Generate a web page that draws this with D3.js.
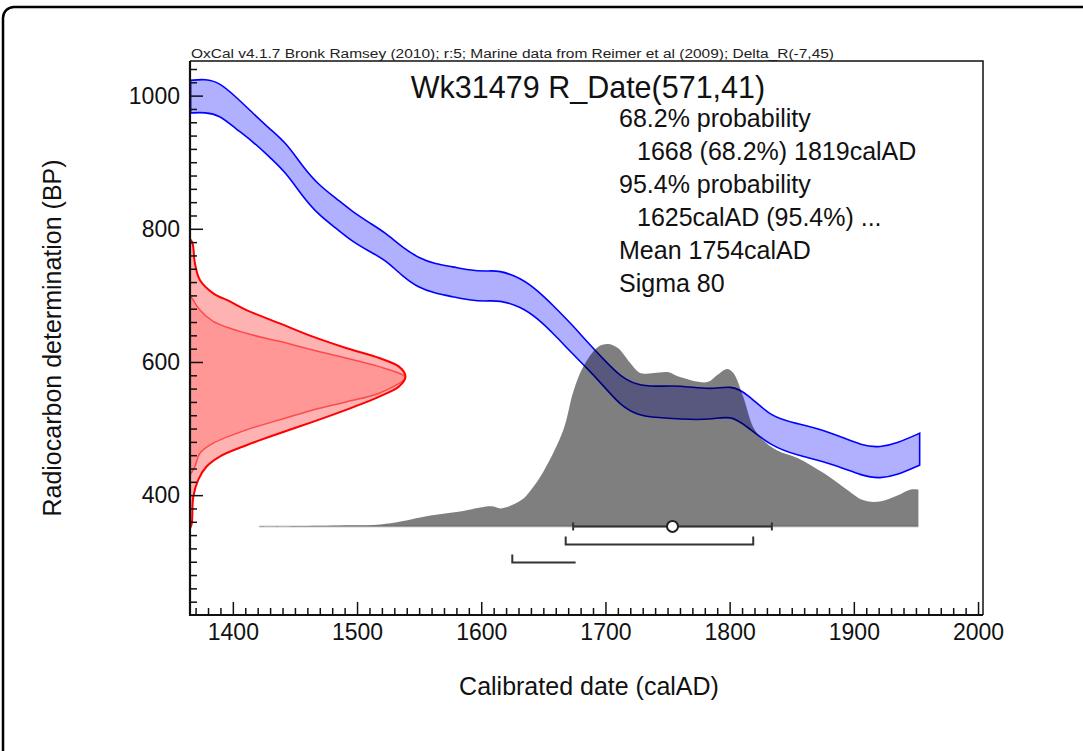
<!DOCTYPE html>
<html>
<head>
<meta charset="utf-8">
<script src="https://cdn.jsdelivr.net/npm/d3@7/dist/d3.min.js"></script>
<style>
  html, body { margin: 0; padding: 0; background: #fff; }
  svg { display: block; font-family: "Liberation Sans", Arial, Helvetica, sans-serif; }
</style>
</head>
<body>
<svg id="chart" width="1083" height="751"></svg>
<script>
// ---------- data ----------
const headerText = "OxCal v4.1.7 Bronk Ramsey (2010); r:5; Marine data from Reimer et al (2009); Delta_R(-7,45)";
const titleText = "Wk31479 R_Date(571,41)";
const infoLines = [
  {text: "68.2% probability", indent: false},
  {text: "1668 (68.2%) 1819calAD", indent: true},
  {text: "95.4% probability", indent: false},
  {text: "1625calAD (95.4%) ...", indent: true},
  {text: "Mean 1754calAD", indent: false},
  {text: "Sigma 80", indent: false}
];
const xLabel = "Calibrated date (calAD)";
const yLabel = "Radiocarbon determination (BP)";

const xMajorTicks = [1400, 1500, 1600, 1700, 1800, 1900, 2000];
const yMajorTicks = [400, 600, 800, 1000];

// calibration curve band (calAD, BP upper / lower)
const calYears = [1366,1378,1389,1402,1416,1429,1443,1456,1469,1483,1496,1510,1523,1537,1550,1563,1577,1590,1604,1614,1632,1645,1659,1672,1685,1699,1712,1726,1739,1760,1785,1801,1814,1834,1854,1881,1908,1921,1935,1953];
const calUpper = [1023,1025,1020,999,974,951,929,894,866,846,826,809,794,771,756,747,743,738,736,738,726,708,683,658,631,603,578,565,563,565,558,565,553,516,508,495,473,472,478,493];
const calLower = [974,975,971,951,931,909,884,849,821,801,781,766,753,728,711,703,698,693,691,693,683,666,641,615,591,563,535,520,517,514,513,520,503,473,460,448,428,425,430,445];

// calibrated probability distribution (relative)
const probYears = [1421,1455,1495,1519,1535,1559,1583,1608,1616,1632,1640,1650,1666,1674,1682,1694,1702,1710,1720,1728,1739,1750,1760,1782,1790,1798,1803,1811,1819,1827,1838,1855,1876,1892,1908,1921,1935,1946,1952];
const probValues = [0,0.002,0.006,0.011,0.027,0.060,0.082,0.110,0.099,0.143,0.200,0.300,0.527,0.736,0.874,0.984,1.0,0.978,0.896,0.841,0.841,0.846,0.819,0.791,0.830,0.863,0.841,0.709,0.544,0.473,0.418,0.374,0.291,0.214,0.143,0.137,0.170,0.203,0.203];

// radiocarbon date distributions on the BP axis (relative density)
const outerBP = [785,778,748,723,703,691,678,658,638,621,606,593,578,563,548,528,510,493,475,458,443,423,397,357,350];
const outerDensity = [0,0.012,0.023,0.046,0.108,0.185,0.262,0.416,0.570,0.724,0.878,0.970,1.0,0.970,0.878,0.724,0.570,0.416,0.262,0.138,0.077,0.038,0.015,0.008,0];
const innerBP = [700,693,678,661,643,631,618,606,593,581,576,553,540,528,513,498,478,463,443,430];
const innerDensity = [0,0.015,0.046,0.108,0.262,0.416,0.570,0.724,0.878,0.985,1.0,0.878,0.724,0.570,0.416,0.262,0.108,0.046,0.023,0];

// summary ranges
const meanYear = 1754;
const sigmaYears = 80;
const range68 = [1668, 1819];
const range95 = [1625, 1676];

// ---------- layout ----------
const svg = d3.select("#chart");
const L = 190, R = 983, T = 61, B = 615;

const x = d3.scaleLinear().domain([1365.5, 2004]).range([L, R]);
const y = d3.scaleLinear().domain([220, 1052]).range([B, T]);
const distBaseBP = 353;       // baseline of calibrated distribution
const prob = d3.scaleLinear().domain([0, 1]).range([y(distBaseBP), y(627)]);
const dens = d3.scaleLinear().domain([0, 1]).range([L, x(1539)]);
const rowY = d3.scaleLinear().domain([0, 2]).range([y(distBaseBP), y(distBaseBP - 54)]);

// outer rounded frame
svg.append("rect")
  .attr("x", 3).attr("y", 7).attr("width", 1200).attr("height", 900)
  .attr("rx", 11).attr("fill", "none").attr("stroke", "#000").attr("stroke-width", 2.5);

svg.append("defs").append("clipPath").attr("id", "plotclip")
  .append("rect").attr("x", L).attr("y", T).attr("width", R - L).attr("height", B - T);

const plot = svg.append("g").attr("clip-path", "url(#plotclip)");

// calibration band
const calData = calYears.map((yr, i) => ({yr, hi: calUpper[i], lo: calLower[i]}));
const bandArea = d3.area()
  .x(d => x(d.yr)).y0(d => y(d.lo)).y1(d => y(d.hi))
  .curve(d3.curveBasis);
plot.append("path").datum(calData)
  .attr("d", bandArea)
  .attr("fill", "rgba(0,0,255,0.31)")
  .attr("stroke", "#0000ff").attr("stroke-width", 1.6);

// baseline of distribution
plot.append("line")
  .attr("x1", x(probYears[0])).attr("x2", x(probYears[probYears.length - 1]))
  .attr("y1", prob(0)).attr("y2", prob(0))
  .attr("stroke", "#cfcfcf").attr("stroke-width", 2);

// calibrated distribution
const probData = probYears.map((yr, i) => ({yr, p: probValues[i]}));
const probArea = d3.area()
  .x(d => x(d.yr)).y0(prob(0)).y1(d => prob(d.p))
  .curve(d3.curveCatmullRom.alpha(0.5));
plot.append("path").datum(probData)
  .attr("d", probArea)
  .attr("fill", "rgba(0,0,0,0.5)");

// radiocarbon date distributions
const outerData = outerBP.map((bp, i) => ({bp, d: outerDensity[i]}));
const innerData = innerBP.map((bp, i) => ({bp, d: innerDensity[i]}));
const densArea = d3.area()
  .y(d => y(d.bp)).x0(dens(0)).x1(d => dens(d.d))
  .curve(d3.curveCatmullRom.alpha(0.5));
const densLine = d3.line()
  .y(d => y(d.bp)).x(d => dens(d.d))
  .curve(d3.curveCatmullRom.alpha(0.5));
plot.append("path").datum(outerData).attr("d", densArea).attr("fill", "rgba(255,0,0,0.30)");
plot.append("path").datum(innerData).attr("d", densArea).attr("fill", "rgba(255,0,0,0.15)");
plot.append("path").datum(innerData).attr("d", densLine).attr("fill", "none")
  .attr("stroke", "rgba(255,0,0,0.55)").attr("stroke-width", 1.5);
plot.append("path").datum(outerData).attr("d", densLine).attr("fill", "none")
  .attr("stroke", "#ff0000").attr("stroke-width", 2);

// range brackets
const bc = "#333";
const g = svg.append("g").attr("stroke", bc).attr("stroke-width", 2).attr("fill", "none");
// mean +/- sigma
g.append("line").attr("x1", x(meanYear - sigmaYears)).attr("x2", x(meanYear + sigmaYears))
  .attr("y1", rowY(0)).attr("y2", rowY(0));
[meanYear - sigmaYears, meanYear + sigmaYears].forEach(v => {
  g.append("line").attr("x1", x(v)).attr("x2", x(v)).attr("y1", rowY(0) - 4).attr("y2", rowY(0) + 4);
});
svg.append("circle").attr("cx", x(meanYear)).attr("cy", rowY(0)).attr("r", 5.5)
  .attr("fill", "#fff").attr("stroke", "#222").attr("stroke-width", 2);
// 68.2%
g.append("path").attr("d", `M${x(range68[0])},${rowY(1) - 8}V${rowY(1)}H${x(range68[1])}V${rowY(1) - 8}`);
// 95.4%
g.append("path").attr("d", `M${x(range95[0])},${rowY(2) - 8}V${rowY(2)}H${x(range95[1])}`);

// axes ticks
const tickG = svg.append("g");
const xMinor = d3.range(1370, 2001, 10).filter(v => v % 100 !== 0);
const yMinor = d3.range(240, 1041, 20).filter(v => v % 200 !== 0);

tickG.append("g").attr("transform", `translate(0,${B})`)
  .call(d3.axisBottom(x).tickValues(xMinor).tickSize(-7).tickFormat(""));
tickG.append("g").attr("transform", `translate(0,${B})`)
  .call(d3.axisBottom(x).tickValues(xMajorTicks).tickSize(-13).tickPadding(9).tickFormat(d3.format("d")));
tickG.append("g").attr("transform", `translate(${L},0)`)
  .call(d3.axisLeft(y).tickValues(yMinor).tickSize(-7).tickFormat(""));
tickG.append("g").attr("transform", `translate(${L},0)`)
  .call(d3.axisLeft(y).tickValues(yMajorTicks).tickSize(-13).tickPadding(10).tickFormat(d3.format("d")));

tickG.selectAll(".domain").remove();
tickG.selectAll(".tick line").attr("stroke", "#111").attr("stroke-width", 1.5);
tickG.selectAll(".tick text").attr("font-size", 23).attr("fill", "#111")
  .attr("font-family", '"Liberation Sans", Arial, Helvetica, sans-serif');

// frame
svg.append("path")
  .attr("d", `M${L},${T}H${R}V${B}`).attr("fill", "none").attr("stroke", "#111").attr("stroke-width", 1.5);
svg.append("path")
  .attr("d", `M${L},${T}V${B}H${R}`).attr("fill", "none").attr("stroke", "#111").attr("stroke-width", 2.2);

// texts
svg.append("text").attr("x", L + 1).attr("y", T - 3)
  .attr("font-size", 12.5).attr("textLength", 643).attr("lengthAdjust", "spacingAndGlyphs")
  .attr("fill", "#222").text(headerText);

svg.append("text").attr("x", 588).attr("y", 98).attr("text-anchor", "middle")
  .attr("font-size", 30.5).attr("fill", "#111").text(titleText);

svg.selectAll(".info").data(infoLines).enter().append("text")
  .attr("class", "info")
  .attr("x", d => d.indent ? 637 : 619)
  .attr("y", (d, i) => 127 + i * 33)
  .attr("font-size", 25).attr("fill", "#111")
  .text(d => d.text);

svg.append("text").attr("x", 589).attr("y", 695).attr("text-anchor", "middle")
  .attr("font-size", 25).attr("fill", "#111").text(xLabel);

svg.append("text").attr("transform", "translate(61,338) rotate(-90)").attr("text-anchor", "middle")
  .attr("font-size", 25).attr("fill", "#111").text(yLabel);
</script>
</body>
</html>
